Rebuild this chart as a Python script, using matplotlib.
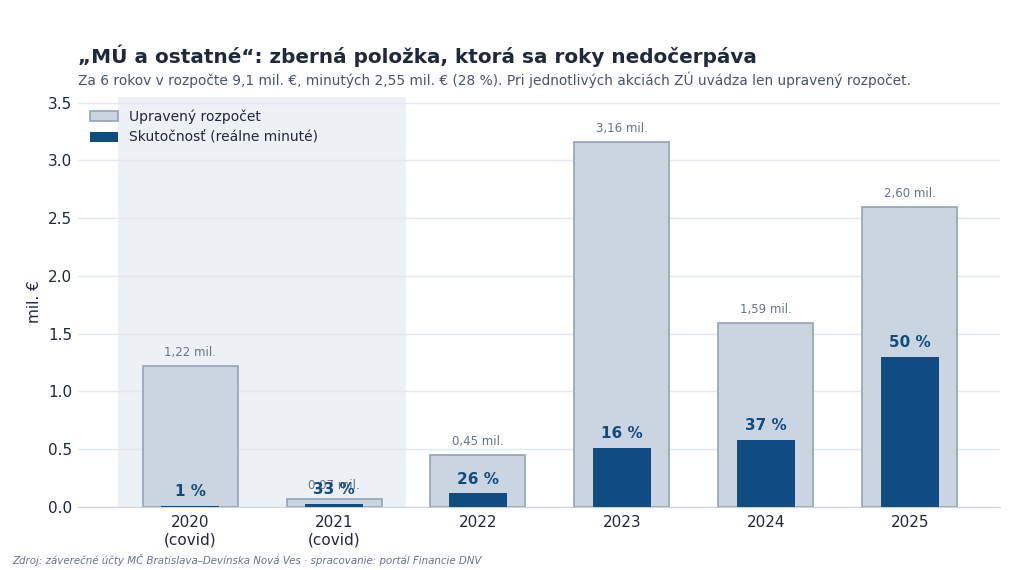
import numpy as np
import matplotlib
matplotlib.use("Agg")
import matplotlib.pyplot as plt

years = ["2020\n(covid)", "2021\n(covid)", "2022", "2023", "2024", "2025"]
budget = [1.22, 0.07, 0.45, 3.16, 1.59, 2.60]
actual = [0.012, 0.023, 0.117, 0.51, 0.58, 1.30]
pct = [1, 33, 26, 16, 37, 50]

c_budget = "#cbd5e1"
c_edge = "#94a3b8"
c_actual = "#0f4c81"
c_text = "#1e293b"

fig = plt.figure(figsize=(10.24, 5.7), dpi=100)
ax = fig.add_axes([0.076, 0.1105, 0.901, 0.7195])

x = np.arange(len(years))
ax.axvspan(-0.5, 1.5, color="#edf0f5", zorder=0, lw=0)
ax.bar(x, budget, width=0.66, color=c_budget, edgecolor=c_edge, linewidth=1.2,
       label="Upravený rozpočet", zorder=2)
ax.bar(x, actual, width=0.4, color=c_actual, label="Skutočnosť (reálne minuté)", zorder=3)

for i in range(len(x)):
    lab = f"{budget[i]:.2f}".replace(".", ",") + " mil."
    ax.annotate(lab, (x[i], budget[i]),
                xytext=(0, 5), textcoords="offset points", ha="center", va="bottom",
                fontsize=8.5, color="#64748b", zorder=4)
    ax.annotate(f"{pct[i]} %", (x[i], actual[i]),
                xytext=(0, 5), textcoords="offset points", ha="center", va="bottom",
                fontsize=11, fontweight="bold", color=c_actual, zorder=5)

ax.set_xlim(-0.78, 5.63)
ax.set_ylim(0, 3.55)
ax.set_yticks([0, 0.5, 1.0, 1.5, 2.0, 2.5, 3.0, 3.5])
ax.set_xticks(x)
ax.set_xticklabels(years, fontsize=11, color=c_text)
ax.tick_params(axis="y", labelsize=11, colors=c_text, length=0, pad=4)
ax.tick_params(axis="x", length=0, pad=6)
ax.set_ylabel("mil. €", fontsize=11, color=c_text, labelpad=4)
ax.grid(axis="y", color="#e2e8f0", linewidth=1, zorder=1)
ax.set_axisbelow(True)
for s in ["top", "right", "left"]:
    ax.spines[s].set_visible(False)
ax.spines["bottom"].set_color("#cbd5e1")

leg = ax.legend(loc="upper left", fontsize=10, frameon=False,
                bbox_to_anchor=(0.0, 1.0), handlelength=2.0, labelcolor=c_text)

fig.text(0.076, 0.903, "„MÚ a ostatné“: zberná položka, ktorá sa roky nedočerpáva",
         fontsize=14.4, fontweight="bold", color=c_text, ha="left", va="center")
fig.text(0.076, 0.86, "Za 6 rokov v rozpočte 9,1 mil. €, minutých 2,55 mil. € (28 %). "
         "Pri jednotlivých akciách ZÚ uvádza len upravený rozpočet.",
         fontsize=9.9, color="#475569", ha="left", va="center")
fig.text(0.012, 0.018, "Zdroj: záverečné účty MČ Bratislava–Devínska Nová Ves · "
         "spracovanie: portál Financie DNV",
         fontsize=7.35, style="italic", color="#64748b", ha="left", va="center")

fig.savefig("out.png", dpi=100)
